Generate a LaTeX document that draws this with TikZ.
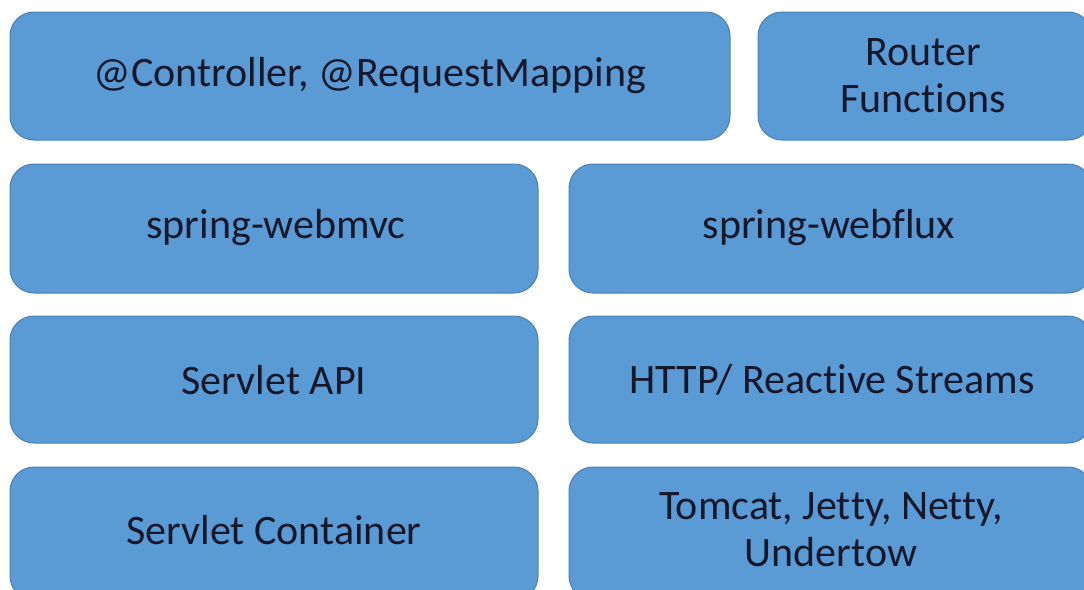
\documentclass[tikz,border=0pt]{standalone}
\usepackage{fontspec}
\setmainfont[Ligatures={NoCommon}]{Carlito}
\definecolor{boxfill}{HTML}{5B9BD5}
\definecolor{boxline}{HTML}{4A80B4}
\definecolor{txt}{HTML}{14182A}
\begin{document}
\begin{tikzpicture}[x=1pt,y=-1pt,
  layer/.style={draw=boxline, line width=1pt, fill=boxfill, rounded corners=24pt},
  lbl/.style={text=txt, font=\fontsize{42}{47}\selectfont, align=center}]
\useasboundingbox (0,0) rectangle (1084,589);
\begin{scope}
\clip (0,0) rectangle (1084,589);
% row 1
\draw[layer] (10,12) rectangle (730,140);
\draw[layer] (758,12) rectangle (1092,140);
% row 2
\draw[layer] (10,164) rectangle (538,293);
\draw[layer] (569,164) rectangle (1092,293);
% row 3
\draw[layer] (10,316) rectangle (538,443);
\draw[layer] (569,316) rectangle (1092,443);
% row 4
\draw[layer] (10,467) rectangle (538,600);
\draw[layer] (569,467) rectangle (1092,600);
\end{scope}
\node[lbl] (ctrl) at (370,76) {@Controller, @RequestMapping};
\node[lbl] (router) at (923,76) {Router\\Functions};
\node[lbl] (mvc) at (276,228) {spring-webmvc};
\node[lbl] (flux) at (829,228) {spring-webflux};
\node[lbl] (servlet) at (274,380) {Servlet API};
\node[lbl] (http) at (832,380) {HTTP/ Reactive Streams};
\node[lbl] (cont) at (274,530) {Servlet Container};
\node[lbl] (tomcat) at (831,530) {Tomcat, Jet\kern0pt ty, Netty,\\Undertow};
\end{tikzpicture}
\end{document}
